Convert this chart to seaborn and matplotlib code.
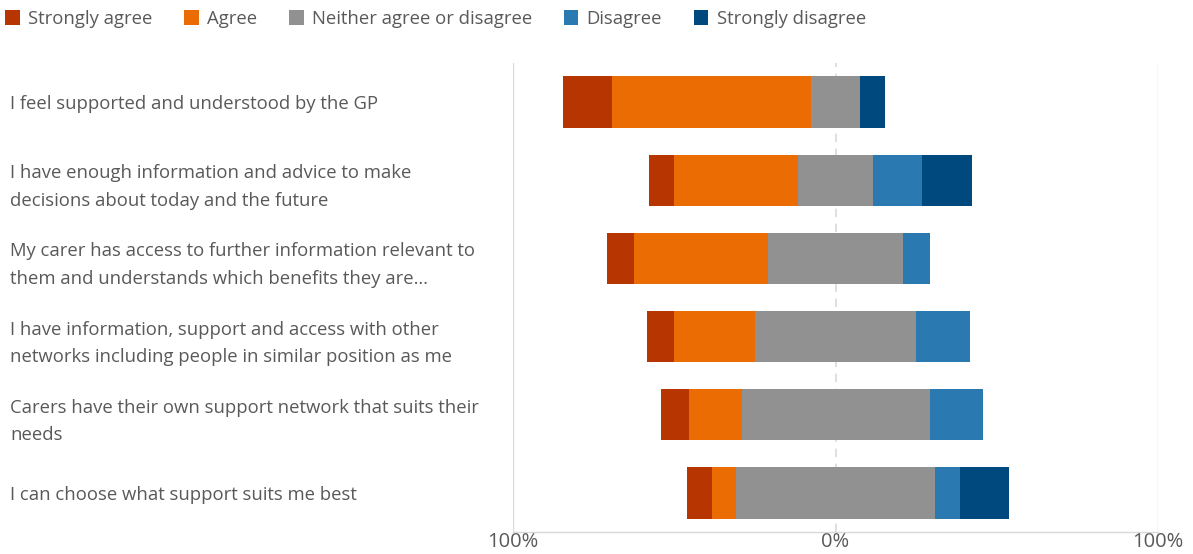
import matplotlib
matplotlib.use("Agg")
import matplotlib.pyplot as plt
import seaborn as sns
import pandas as pd
from matplotlib.patches import Patch

# Survey statements (top to bottom)
statements = [
    "I feel supported and understood by the GP",
    "I have enough information and advice to make\ndecisions about today and the future",
    "My carer has access to further information relevant to\nthem and understands which benefits they are…",
    "I have information, support and access with other\nnetworks including people in similar position as me",
    "Carers have their own support network that suits their\nneeds",
    "I can choose what support suits me best",
]

# Share of responses per statement (%)
strongly_agree = [15.4, 7.7, 8.3, 8.3, 8.7, 7.7]
agree = [61.5, 38.5, 41.7, 25.0, 16.3, 7.7]
neither = [15.4, 23.1, 41.7, 50.0, 58.3, 61.5]
disagree = [0.0, 15.4, 8.3, 16.7, 16.7, 7.7]
strongly_disagree = [7.7, 15.4, 0.0, 0.0, 0.0, 15.4]

categories = ["Strongly agree", "Agree", "Neither agree or disagree",
              "Disagree", "Strongly disagree"]
colors = ["#B73500", "#EA6C03", "#919191", "#2A79B0", "#00497E"]

x_ticks = [-100, 0, 100]
x_tick_labels = ["100%", "0%", "100%"]

sns.set_theme(style="white")
plt.rcParams["font.family"] = ["Open Sans", "DejaVu Sans"]
text_col = "#595959"

df = pd.DataFrame({
    "statement": statements,
    "sa": strongly_agree,
    "a": agree,
    "n": neither,
    "d": disagree,
    "sd": strongly_disagree,
})
half = df["n"] / 2
# Cumulative edges of the diverging stack, measured from the neutral midpoint
df["left_sa"] = -(half + df["a"] + df["sa"])
df["left_a"] = -(half + df["a"])
df["left_n"] = -half
df["right_n"] = half
df["right_d"] = half + df["d"]
df["right_sd"] = half + df["d"] + df["sd"]

fig = plt.figure(figsize=(11.93, 5.54), dpi=100)
ax = fig.add_axes([0.430, 0.040, 0.5407, 0.846])

# Gridlines behind the bars
ax.axvline(0, color="#D9D9D9", lw=1.2, ls=(0, (5, 4)), zorder=0)
for xv in (-100, 100):
    ax.axvline(xv, color="#D9D9D9", lw=1.0, zorder=0)

# Outer segments are drawn first; inner ones overlay them
layers = [
    ("left_sa", colors[0]),
    ("left_a", colors[1]),
    ("right_sd", colors[4]),
    ("right_d", colors[3]),
    ("left_n", colors[2]),
    ("right_n", colors[2]),
]
for col, c in layers:
    sns.barplot(data=df, x=col, y="statement", orient="h", color=c,
                width=0.66, linewidth=0, saturation=1, ax=ax, zorder=2)

ax.set_xlim(-100, 100)
ax.set_xticks(x_ticks)
ax.set_xticklabels(x_tick_labels, fontsize=14.5, color=text_col)
ax.tick_params(axis="x", length=0, pad=0)
ax.set_xlabel("")
ax.set_ylabel("")

ax.tick_params(axis="y", length=0, pad=362)
for lbl in ax.get_yticklabels():
    lbl.set_horizontalalignment("left")
    lbl.set_fontsize(13.3)
    lbl.set_color(text_col)
    lbl.set_linespacing(1.7)

for side in ("left", "right", "top"):
    ax.spines[side].set_visible(False)
ax.spines["bottom"].set_color("#D9D9D9")
ax.spines["bottom"].set_linewidth(1.0)

handles = [Patch(facecolor=c, edgecolor="none") for c in colors]
fig.legend(handles, categories, loc="upper left", bbox_to_anchor=(-0.0095, 1.012),
           ncol=5, frameon=False, fontsize=13.3, handlelength=0.8,
           handleheight=0.8, handletextpad=0.45, columnspacing=1.7,
           labelcolor=text_col)

fig.savefig("out.png", dpi=100)
